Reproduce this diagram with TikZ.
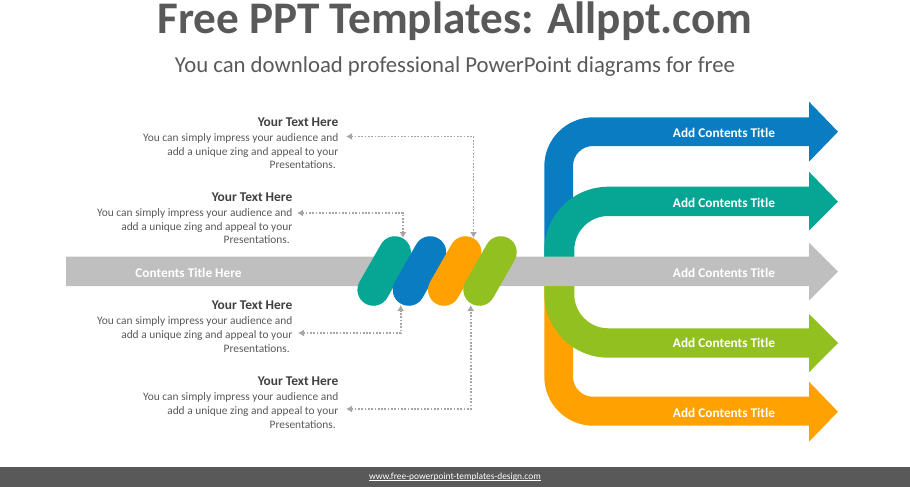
\documentclass[tikz,border=0pt]{standalone}
\usepackage{fontspec}
\setmainfont{Carlito}
\usetikzlibrary{arrows.meta}
\definecolor{myblue}{HTML}{0A7CC1}
\definecolor{myteal}{HTML}{07A593}
\definecolor{mygray}{HTML}{BFBFBF}
\definecolor{mygreen}{HTML}{92C020}
\definecolor{myorange}{HTML}{FFA100}
\definecolor{mydark}{HTML}{595959}
\definecolor{myhead}{HTML}{404040}
\definecolor{mylink}{HTML}{A6A6A6}
\begin{document}
\begin{tikzpicture}[x=1pt, y=-1pt,
  label/.style = {text=white, font=\bfseries\fontsize{13.3}{15}\selectfont, anchor=center, inner sep=0pt},
  note/.style = {text=mydark, font=\fontsize{11.4}{13.6}\selectfont, align=right, anchor=north east, inner sep=0pt},
  pill/.style = {line width=32pt, line cap=round},
  link/.style = {draw=mylink, line width=1.7pt, dash pattern=on 1.7pt off 1.6pt, {Latex[length=6pt,width=7pt]}-{Latex[length=6pt,width=7pt]}},
  main/.style = {inner sep=0pt, minimum size=0pt}]
  \useasboundingbox (0,0) rectangle (910,487);
  \fill[mydark] (0,467) rectangle (910,487);
  \node[inner sep=0pt, text=mydark, font=\bfseries\fontsize{45.2}{50}\selectfont] (title) at (455,20.7) {Free PPT Templates: Allppt.com};
  \node[inner sep=0pt, text=mydark, font=\fontsize{22.75}{26}\selectfont] (subtitle) at (455,66.5) {You can download professional PowerPoint diagrams for free};
  \node[inner sep=0pt, text=white, font=\fontsize{9.4}{12}\selectfont] (site) at (455,480) {\underline{\smash{www.free-powerpoint-templates-design.com}}};

  % ribbons
  \fill[myblue] (544.3,257) [rounded corners=49pt] -- (544.3,117.3) [rounded corners=0pt] -- (809,117.3) -- (809,101.7) -- (838,131.7) -- (809,161.7) -- (809,146) [rounded corners=20pt] -- (573,146) [rounded corners=0pt] -- (573,257) -- cycle;
  \fill[myteal] (544.3,257) [rounded corners=64pt] -- (544.3,186.7) [rounded corners=0pt] -- (809,186.7) -- (809,171.7) -- (838,201.7) -- (809,230.7) -- (809,216) [rounded corners=34pt] -- (574.3,216) [rounded corners=0pt] -- (574.3,257) -- cycle;
  \fill[myorange] (544.3,286) [rounded corners=49pt] -- (544.3,425.7) [rounded corners=0pt] -- (809,425.7) -- (809,441.7) -- (838,411.7) -- (809,381.7) -- (809,396.7) [rounded corners=20pt] -- (573,396.7) [rounded corners=0pt] -- (573,286) -- cycle;
  \fill[mygreen] (544.3,286) [rounded corners=64pt] -- (544.3,357.7) [rounded corners=0pt] -- (809,357.7) -- (809,372.3) -- (838,343) -- (809,314) -- (809,328.3) [rounded corners=34pt] -- (574.3,328.3) [rounded corners=0pt] -- (574.3,286) -- cycle;
  \fill[mygray] (66,256.7) -- (809,256.7) -- (809,242.7) -- (838,271.7) -- (809,300.7) -- (809,286) -- (66,286) -- cycle;

  % twist
  \node[main] (t1) at (373.3,290) {};
  \node[main] (t2) at (395,252) {};
  \node[main] (b1) at (408.6,290) {};
  \node[main] (b2) at (430.3,252) {};
  \node[main] (o1) at (443.9,290) {};
  \node[main] (o2) at (465.6,252) {};
  \node[main] (g1) at (479.2,290) {};
  \node[main] (g2) at (500.9,252) {};
  \draw[pill, myteal] (t1) -- (t2);
  \draw[pill, myblue] (b1) -- (b2);
  \draw[pill, myorange] (o1) -- (o2);
  \draw[pill, mygreen] (g1) -- (g2);

  % labels on the arrows
  \node[label] (l1) at (724,133) {Add Contents Title};
  \node[label] (l2) at (724,203) {Add Contents Title};
  \node[label] (l3) at (724,273) {Add Contents Title};
  \node[label] (l4) at (724,343) {Add Contents Title};
  \node[label] (l5) at (724,413) {Add Contents Title};
  \node[label] (l0) at (188.5,273) {Contents Title Here};

  % notes
  \node[note] (n1) at (338.5,117.5) {\textbf{\textcolor{myhead}{\fontsize{13.4}{15}\selectfont Your Text Here}}\\[1.5pt]You can simply impress your audience and\\add a unique zing and appeal to your\\Presentations.\hspace*{2.5pt}};
  \node[note] (n2) at (292.5,192.5) {\textbf{\textcolor{myhead}{\fontsize{13.4}{15}\selectfont Your Text Here}}\\[1.5pt]You can simply impress your audience and\\add a unique zing and appeal to your\\Presentations.\hspace*{2.5pt}};
  \node[note] (n3) at (292.5,301) {\textbf{\textcolor{myhead}{\fontsize{13.4}{15}\selectfont Your Text Here}}\\[1.5pt]You can simply impress your audience and\\add a unique zing and appeal to your\\Presentations.\hspace*{2.5pt}};
  \node[note] (n4) at (338.5,377) {\textbf{\textcolor{myhead}{\fontsize{13.4}{15}\selectfont Your Text Here}}\\[1.5pt]You can simply impress your audience and\\add a unique zing and appeal to your\\Presentations.\hspace*{2.5pt}};

  % dotted links
  \coordinate (c1) at (346,136.5);
  \coordinate (c2) at (297,213);
  \coordinate (c3) at (298,333);
  \coordinate (c4) at (346,409);
  \coordinate (p1) at (473.5,238);
  \coordinate (p2) at (403,238);
  \coordinate (p3) at (400.7,305);
  \coordinate (p4) at (470.7,305);
  \draw[link] (c1) -| (p1);
  \draw[link] (c2) -| (p2);
  \draw[link] (c3) -| (p3);
  \draw[link] (c4) -| (p4);
\end{tikzpicture}
\end{document}
